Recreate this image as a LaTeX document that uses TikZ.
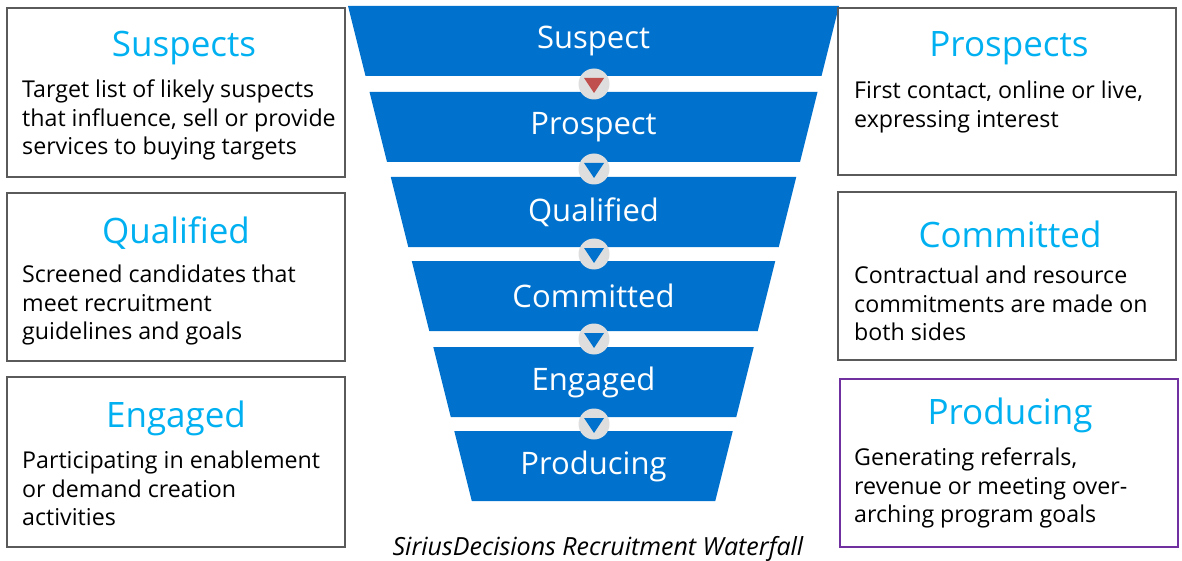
\documentclass[tikz,border=0pt]{standalone}
\usepackage{fontspec}
\setmainfont{Open Sans}
\definecolor{fblue}{RGB}{0,114,206}
\definecolor{fred}{RGB}{192,80,77}
\definecolor{fgray}{RGB}{222,222,222}
\definecolor{fcyan}{RGB}{0,176,240}
\definecolor{fbord}{RGB}{90,90,90}
\definecolor{fpurp}{RGB}{112,48,160}
\begin{document}
\begin{tikzpicture}[x=1pt,y=-1pt,
  band/.style={fill=fblue},
  lbl/.style={text=white,font=\fontsize{31}{34}\selectfont},
  circ/.style={circle,fill=fgray,minimum size=31pt,inner sep=0pt},
  box/.style={draw=fbord,line width=1.2pt},
  ttl/.style={text=fcyan,font=\fontsize{35}{38}\selectfont},
  body/.style={anchor=north west,align=left,inner sep=0pt,font=\fontsize{23.2}{28.3}\selectfont}]
\useasboundingbox (0,0) rectangle (1182,561);
\foreach \t/\name/\txt in {6/b1/Suspect,92/b2/Prospect,177/b3/Qualified,261/b4/Committed,347/b5/Engaged,431/b6/Producing}{
  \pgfmathsetmacro\lt{348+(\t-6)*0.25}
  \pgfmathsetmacro\lb{348+(\t+70-6)*0.25}
  \pgfmathsetmacro\rt{1187-\lt}
  \pgfmathsetmacro\rb{1187-\lb}
  \fill[band] (\lt,\t) -- (\rt,\t) -- (\rb,\t+70) -- (\lb,\t+70) -- cycle;
  \node[lbl] (\name) at (593.5,\t+35) {\txt};
}
\foreach \y/\c [count=\i] in {84/fred,169/fblue,254/fblue,339/fblue,424/fblue}{
  \node[circ] (c\i) at (594,\y) {};
  \fill[\c] (584,\y-6) -- (604,\y-6) -- (594,\y+9) -- cycle;
}
% left boxes
\draw[box] (7,8) rectangle (345,177);
\node[ttl] (t1) at (184,48) {Suspects};
\node[body] (d1) at (22,80) {Target list of likely suspects\\that influence, sell or provide\\services to buying targets};
\draw[box] (7,193) rectangle (345,361);
\node[ttl] (t2) at (176,233) {Qualified};
\node[body] (d2) at (22,265) {Screened candidates that\\meet recruitment\\guidelines and goals};
\draw[box] (7,377) rectangle (345,547);
\node[ttl] (t3) at (176,418) {Engaged};
\node[body] (d3) at (22,451) {Participating in enablement\\or demand creation\\activities};
% right boxes
\draw[box] (838,8) rectangle (1176,175);
\node[ttl] (t4) at (1009,48) {Prospects};
\node[body] (d4) at (854,81) {First contact, online or live,\\expressing interest};
\draw[box] (838,192) rectangle (1176,360);
\node[ttl] (t5) at (1010,234) {Committed};
\node[body] (d5) at (854,266) {Contractual and resource\\commitments are made on\\both sides};
\draw[box,draw=fpurp] (840,379) rectangle (1178,547);
\node[ttl] (t6) at (1010,415) {Producing};
\node[body] (d6) at (854,448) {Generating referrals,\\revenue or meeting over-\\arching program goals};
\node[font=\itshape\fontsize{25}{28}\selectfont] (cap) at (598,549) {SiriusDecisions Recruitment Waterfall};
\end{tikzpicture}
\end{document}
